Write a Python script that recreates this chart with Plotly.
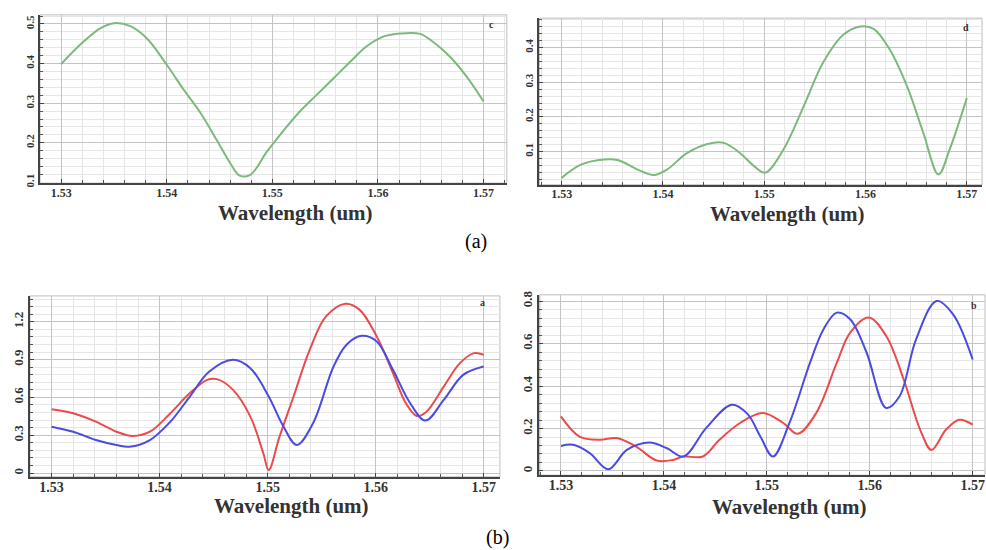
import plotly.graph_objects as go

# panel c (top left)
wl_c = [1.5300, 1.5321, 1.5337, 1.5350, 1.5365, 1.5381, 1.5400, 1.5416, 1.5432, 1.5447,
        1.5460, 1.5469, 1.5479, 1.5495, 1.5510, 1.5526, 1.5542, 1.5558, 1.5574, 1.5589,
        1.5605, 1.5621, 1.5640, 1.5652, 1.5668, 1.5684, 1.5700]
val_c = [0.399, 0.455, 0.489, 0.502, 0.495, 0.464, 0.397, 0.334, 0.275, 0.208,
         0.149, 0.117, 0.119, 0.178, 0.229, 0.279, 0.321, 0.363, 0.405, 0.443,
         0.468, 0.476, 0.475, 0.455, 0.418, 0.367, 0.304]

# panel d (top right)
wl_d = [1.5300, 1.5319, 1.5342, 1.5356, 1.5375, 1.5391, 1.5404, 1.5424, 1.5444, 1.5460,
        1.5476, 1.5490, 1.5501, 1.5519, 1.5539, 1.5558, 1.5578, 1.5595, 1.5608, 1.5624,
        1.5641, 1.5657, 1.5672, 1.5683, 1.5700]
val_d = [0.024, 0.062, 0.077, 0.075, 0.048, 0.032, 0.048, 0.096, 0.122, 0.125,
         0.096, 0.058, 0.039, 0.106, 0.231, 0.356, 0.437, 0.461, 0.454, 0.394,
         0.288, 0.154, 0.034, 0.106, 0.255]

# panel a (bottom left)
wl_a_red = [1.5300, 1.5320, 1.5341, 1.5360, 1.5375, 1.5391, 1.5410, 1.5428, 1.5444, 1.5453,
            1.5468, 1.5484, 1.5496, 1.5501, 1.5511, 1.5524, 1.5539, 1.5554, 1.5572, 1.5585,
            1.5601, 1.5616, 1.5628, 1.5638, 1.5647, 1.5663, 1.5678, 1.5691, 1.5700]
val_a_red = [0.506, 0.475, 0.408, 0.328, 0.294, 0.328, 0.475, 0.634, 0.739, 0.745,
             0.660, 0.448, 0.157, 0.024, 0.289, 0.607, 0.978, 1.242, 1.343, 1.296,
             1.083, 0.793, 0.554, 0.453, 0.487, 0.686, 0.872, 0.951, 0.938]
wl_a_blue = [1.5300, 1.5320, 1.5341, 1.5360, 1.5372, 1.5391, 1.5410, 1.5428, 1.5446, 1.5468,
             1.5484, 1.5501, 1.5514, 1.5527, 1.5542, 1.5561, 1.5573, 1.5587, 1.5601, 1.5616,
             1.5632, 1.5646, 1.5663, 1.5681, 1.5700]
val_a_blue = [0.368, 0.328, 0.262, 0.223, 0.209, 0.262, 0.408, 0.607, 0.805, 0.898,
              0.832, 0.607, 0.380, 0.223, 0.395, 0.845, 1.018, 1.089, 1.044, 0.819,
              0.554, 0.416, 0.580, 0.779, 0.845]

# panel b (bottom right)
wl_b_red = [1.5300, 1.5318, 1.5338, 1.5354, 1.5373, 1.5393, 1.5409, 1.5419, 1.5438, 1.5454,
            1.5474, 1.5496, 1.5516, 1.5530, 1.5548, 1.5568, 1.5581, 1.5599, 1.5616, 1.5633,
            1.5649, 1.5660, 1.5674, 1.5687, 1.5700]
val_b_red = [0.257, 0.162, 0.147, 0.155, 0.115, 0.049, 0.052, 0.068, 0.068, 0.147,
             0.226, 0.273, 0.226, 0.175, 0.273, 0.510, 0.652, 0.723, 0.636, 0.431,
             0.194, 0.099, 0.194, 0.241, 0.218]
wl_b_blue = [1.5300, 1.5312, 1.5328, 1.5346, 1.5364, 1.5386, 1.5403, 1.5419, 1.5441, 1.5466,
             1.5481, 1.5494, 1.5506, 1.5522, 1.5542, 1.5555, 1.5568, 1.5581, 1.5597, 1.5616,
             1.5629, 1.5645, 1.5665, 1.5681, 1.5700]
val_b_blue = [0.118, 0.123, 0.084, 0.008, 0.099, 0.134, 0.107, 0.068, 0.202, 0.312,
              0.270, 0.160, 0.068, 0.226, 0.510, 0.667, 0.746, 0.715, 0.557, 0.297,
              0.352, 0.620, 0.801, 0.738, 0.525]

x_ticks = [1.53, 1.54, 1.55, 1.56, 1.57]
x_tick_text = ["1.53", "1.54", "1.55", "1.56", "1.57"]

GREEN = "rgb(125,185,125)"
RED = "rgb(235,75,75)"
BLUE = "rgb(75,75,225)"
SERIF = "Liberation Serif"

fig = go.Figure()

def line(x, y, color, n):
    fig.add_trace(go.Scatter(x=x, y=y, mode="lines", line=dict(color=color, width=2, shape="spline", smoothing=1),
                             xaxis="x" + n, yaxis="y" + n, showlegend=False, hoverinfo="skip"))

line(wl_c, val_c, GREEN, "")
line(wl_d, val_d, GREEN, "2")
line(wl_a_red, val_a_red, RED, "3")
line(wl_a_blue, val_a_blue, BLUE, "3")
line(wl_b_red, val_b_red, RED, "4")
line(wl_b_blue, val_b_blue, BLUE, "4")

def xax(domain, rng, anchor, fsize, standoff):
    return dict(domain=domain, range=rng, anchor=anchor, tickvals=x_ticks, ticktext=x_tick_text,
                tickfont=dict(family=SERIF, size=fsize, color="#333", weight="bold"),
                ticklabelstandoff=standoff,
                showline=True, linecolor="#444", linewidth=2, automargin=False,
                ticks="inside", ticklen=4, tickcolor="#444",
                showgrid=True, gridcolor="#c4c4c4", gridwidth=1, zeroline=False,
                minor=dict(dtick=0.002, tick0=1.53, showgrid=True, gridcolor="#e6e6e6",
                           ticks="inside", ticklen=3, tickcolor="#555"))

def yax(domain, rng, anchor, dtick, minor, fsize):
    return dict(domain=domain, range=rng, anchor=anchor, dtick=dtick, tickangle=-90,
                tickfont=dict(family=SERIF, size=fsize, color="#333", weight="bold"),
                showline=True, linecolor="#444", linewidth=2, automargin=False,
                ticks="inside", ticklen=4, tickcolor="#444",
                showgrid=True, gridcolor="#c4c4c4", gridwidth=1, zeroline=False,
                minor=dict(dtick=minor, showgrid=True, gridcolor="#e6e6e6",
                           ticks="inside", ticklen=3, tickcolor="#555"))

fig.update_layout(
    width=986, height=550, margin=dict(l=0, r=0, t=0, b=0),
    paper_bgcolor="white", plot_bgcolor="white",
    xaxis=xax([0.0406, 0.514], [1.528, 1.5722], "y", 12, -3),
    yaxis=yax([0.667, 0.973], [0.098, 0.523], "x", 0.1, 0.02, 11),
    xaxis2=xax([0.547, 0.996], [1.5278, 1.5715], "y2", 12, -3),
    yaxis2=yax([0.664, 0.967], [0.004, 0.485], "x2", 0.1, 0.02, 11),
    xaxis3=xax([0.0304, 0.507], [1.528, 1.5715], "y3", 14, -4),
    yaxis3=yax([0.133, 0.462], [-0.03, 1.405], "x3", 0.3, 0.06, 13),
    xaxis4=xax([0.547, 0.999], [1.5279, 1.5712], "y4", 14, -4),
    yaxis4=yax([0.136, 0.464], [-0.02, 0.83], "x4", 0.2, 0.04, 13),
)

# light border on top and right of each plot
for n in ["", "2", "3", "4"]:
    fig.add_shape(type="rect", xref="x" + n + " domain", yref="y" + n + " domain",
                  x0=0, x1=1, y0=0, y1=1, line=dict(color="#bdbdbd", width=1), layer="below")

def note(txt, px, py, font):
    fig.add_annotation(x=px / 986, y=1 - py / 550, xref="paper", yref="paper", text=txt,
                       xanchor="center", yanchor="middle", showarrow=False, font=font)

# axis titles and panel letters
title_font = dict(family=SERIF, size=21, color="#333", weight="bold")
note("Wavelength (um)", 295, 213, title_font)
note("Wavelength (um)", 787, 214, title_font)
note("Wavelength (um)", 291, 506, title_font)
note("Wavelength (um)", 789, 507, title_font)

letter_font = dict(family=SERIF, size=10, color="#333", weight="bold")
note("c", 491, 24, letter_font)
note("d", 966, 28, letter_font)
note("a", 482, 302, letter_font)
note("b", 974, 305, letter_font)

note("(a)", 476, 241, dict(family=SERIF, size=20, color="black"))
note("(b)", 497, 537, dict(family=SERIF, size=20, color="black"))

# the page body has an 8px default margin; drop it so the figure fills the window
fig.write_html("out.html", config={"displayModeBar": False},
               post_script="document.body.style.margin='0';document.body.style.overflow='hidden';")
